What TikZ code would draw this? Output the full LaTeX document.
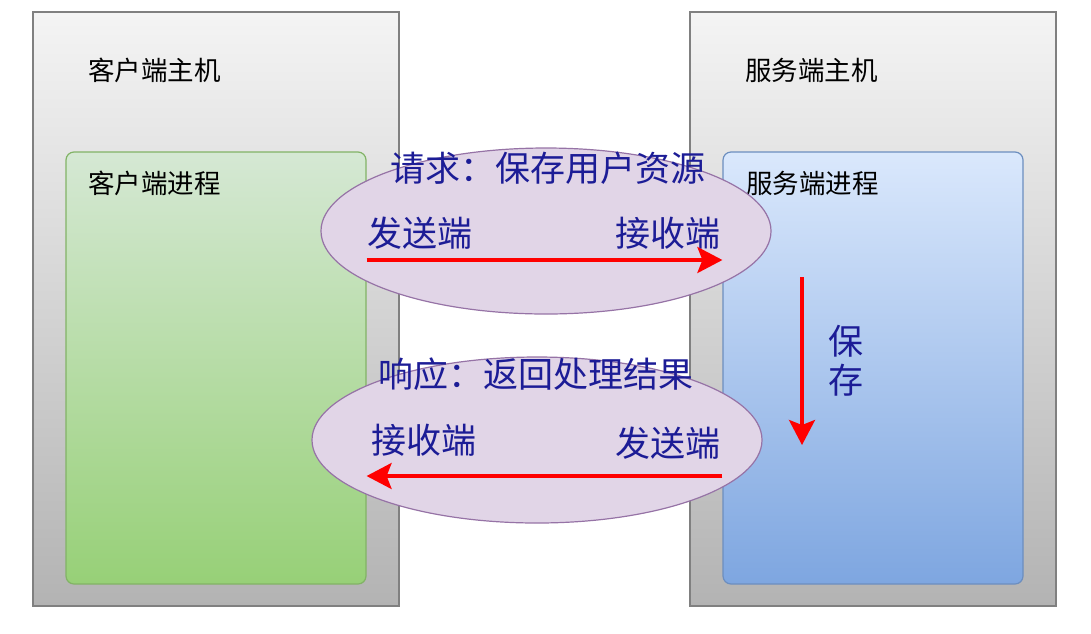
\documentclass[tikz,border=0pt]{standalone}
\usepackage{fontspec}
\setmainfont{Noto Sans CJK SC}
\usetikzlibrary{arrows.meta,positioning,shapes.geometric,calc}
\definecolor{hostline}{HTML}{808080}
\definecolor{hosttop}{HTML}{F4F4F4}
\definecolor{hostbot}{HTML}{B3B3B3}
\definecolor{cliline}{HTML}{82B366}
\definecolor{clitop}{HTML}{D5E8D4}
\definecolor{clibot}{HTML}{97D077}
\definecolor{srvline}{HTML}{6C8EBF}
\definecolor{srvtop}{HTML}{DAE8FC}
\definecolor{srvbot}{HTML}{7EA6E0}
\definecolor{msgfill}{HTML}{E1D5E7}
\definecolor{msgline}{HTML}{9673A6}
\definecolor{msgtext}{RGB}{28,28,150}

\begin{document}
\begin{tikzpicture}[x=1pt,y=-1pt,
  host/.style={draw=hostline,line width=1.3pt,top color=hosttop,bottom color=hostbot,minimum width=366pt,minimum height=594pt,inner sep=0},
  proc/.style={rounded corners=8pt,line width=1.2pt,minimum width=300pt,minimum height=432pt,inner sep=0},
  msg/.style={draw=msgline,fill=msgfill,line width=1.2pt,ellipse,minimum width=450pt,minimum height=166pt,inner sep=0},
  hlbl/.style={anchor=west,font=\fontsize{26.5}{31}\selectfont,inner sep=0},
  mtxt/.style={font=\fontsize{35}{40}\selectfont,text=msgtext,inner sep=0},
  flow/.style={draw=red,line width=3.4pt,-{Stealth[length=25pt,width=26pt,inset=5pt]}}]
  \useasboundingbox (0,0) rectangle (1091,633);
  % hosts
  \node[host] (chost) at (216,309) {};
  \node[host] (shost) at (873,309) {};
  \node[hlbl] (chostlbl) at (88,70) {客户端主机};
  \node[hlbl] (shostlbl) at (745,70) {服务端主机};
  % processes
  \node[proc,draw=cliline,top color=clitop,bottom color=clibot] (cproc) at (216,368) {};
  \node[proc,draw=srvline,top color=srvtop,bottom color=srvbot] (sproc) at (873,368) {};
  \node[hlbl] (cproclbl) at (88,183) {客户端进程};
  \node[hlbl] (sproclbl) at (746,183) {服务端进程};
  % request
  \node[msg] (req) at (546,231) {};
  \node[mtxt] (reqtitle) at (548,168) {请求：保存用户资源};
  \node[mtxt] (reqsend) at (420,233) {发送端};
  \node[mtxt] (reqrecv) at (668,233) {接收端};
  \coordinate (reqy) at (0,260);
  \draw[flow] (cproc.east |- reqy) -- (sproc.west |- reqy);
  % response
  \node[msg] (resp) at (537,440) {};
  \node[mtxt] (resptitle) at (536,374) {响应：返回处理结果};
  \node[mtxt] (resprecv) at (424,440) {接收端};
  \node[mtxt] (respsend) at (668,443) {发送端};
  \coordinate (respy) at (0,476);
  \draw[flow] (sproc.west |- respy) -- (cproc.east |- respy);
  % save
  \coordinate (savetop) at (802,277);
  \coordinate (savebot) at (802,445);
  \draw[flow] (savetop) -- (savebot);
  \node[mtxt,align=center,font=\fontsize{35}{39}\selectfont] (savelbl) at (846,361) {保\\存};
\end{tikzpicture}
\end{document}
